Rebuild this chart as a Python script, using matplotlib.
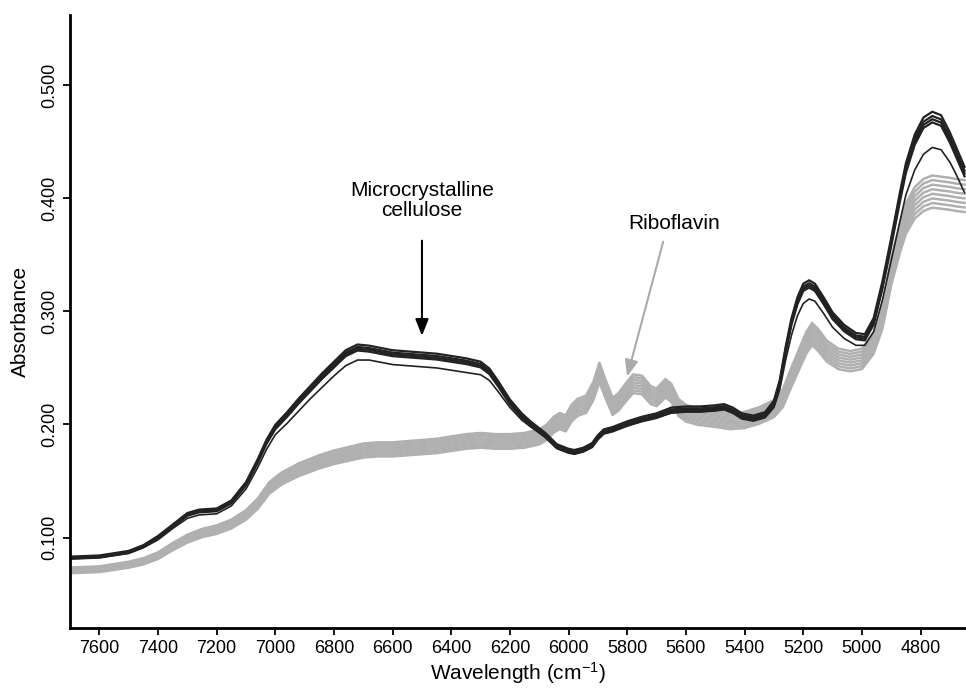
import numpy as np
import matplotlib.pyplot as plt

plt.rcParams['font.family'] = ['Liberation Sans', 'DejaVu Sans']
plt.rcParams['mathtext.default'] = 'regular'

# wavenumbers (cm-1) and read-off absorbance of the two sample groups
wn_dark = [7700, 7600, 7500, 7450, 7400, 7350, 7300, 7260, 7200, 7150, 7100, 7060,
           7030, 7000, 6960, 6920, 6880, 6840, 6800, 6760, 6720, 6680, 6640, 6600,
           6550, 6500, 6450, 6400, 6350, 6300, 6270, 6240, 6200, 6160, 6130, 6080,
           6040, 6000, 5980, 5950, 5920, 5900, 5880, 5850, 5800, 5750, 5700, 5650,
           5600, 5550, 5500, 5470, 5440, 5410, 5370, 5330, 5300, 5280, 5260, 5240,
           5220, 5200, 5180, 5160, 5130, 5100, 5060, 5020, 4990, 4960, 4930, 4900,
           4870, 4850, 4820, 4790, 4760, 4730, 4700, 4680, 4650]
abs_dark = [0.082, 0.083, 0.087, 0.092, 0.100, 0.110, 0.120, 0.123, 0.124, 0.131, 0.147, 0.167,
            0.184, 0.197, 0.208, 0.220, 0.231, 0.242, 0.252, 0.262, 0.267, 0.266, 0.264, 0.262,
            0.261, 0.260, 0.259, 0.257, 0.255, 0.252, 0.246, 0.235, 0.219, 0.207, 0.200, 0.190,
            0.180, 0.176, 0.175, 0.177, 0.181, 0.188, 0.193, 0.195, 0.200, 0.204, 0.207, 0.212,
            0.213, 0.213, 0.214, 0.215, 0.212, 0.207, 0.205, 0.208, 0.218, 0.236, 0.265, 0.290,
            0.308, 0.320, 0.323, 0.320, 0.308, 0.295, 0.284, 0.277, 0.276, 0.290, 0.322, 0.360,
            0.400, 0.425, 0.450, 0.465, 0.470, 0.467, 0.452, 0.440, 0.422]
# one sample with lower intensity at the bands
abs_dark_low = [0.081, 0.082, 0.086, 0.091, 0.098, 0.108, 0.117, 0.120, 0.121, 0.128, 0.143, 0.162,
                0.178, 0.191, 0.201, 0.212, 0.223, 0.233, 0.243, 0.252, 0.257, 0.257, 0.255, 0.253,
                0.252, 0.251, 0.250, 0.248, 0.246, 0.244, 0.239, 0.229, 0.215, 0.204, 0.198, 0.189,
                0.179, 0.175, 0.174, 0.176, 0.180, 0.187, 0.192, 0.194, 0.199, 0.203, 0.206, 0.210,
                0.211, 0.211, 0.212, 0.213, 0.210, 0.205, 0.203, 0.206, 0.215, 0.231, 0.257, 0.279,
                0.296, 0.307, 0.311, 0.309, 0.298, 0.286, 0.276, 0.270, 0.270, 0.282, 0.310, 0.345,
                0.380, 0.403, 0.425, 0.439, 0.445, 0.443, 0.432, 0.422, 0.405]

wn_grey = [7700, 7600, 7500, 7450, 7400, 7350, 7300, 7250, 7200, 7150, 7100, 7060,
           7020, 6980, 6920, 6850, 6800, 6750, 6700, 6650, 6600, 6550, 6500, 6450,
           6400, 6350, 6300, 6250, 6200, 6150, 6100, 6075, 6050, 6030, 6010, 5990,
           5970, 5940, 5915, 5895, 5875, 5850, 5830, 5800, 5780, 5750, 5720, 5700,
           5670, 5650, 5625, 5600, 5560, 5500, 5450, 5400, 5350, 5300, 5270, 5240,
           5210, 5190, 5170, 5150, 5120, 5080, 5040, 5000, 4960, 4930, 4900, 4870,
           4850, 4820, 4790, 4760, 4730, 4700, 4680, 4650]
abs_grey = [0.071, 0.072, 0.076, 0.079, 0.084, 0.092, 0.099, 0.104, 0.107, 0.112, 0.120, 0.130,
            0.144, 0.152, 0.160, 0.167, 0.171, 0.174, 0.177, 0.178, 0.178, 0.179, 0.180, 0.181,
            0.183, 0.185, 0.186, 0.185, 0.185, 0.186, 0.189, 0.193, 0.200, 0.203, 0.201, 0.210,
            0.215, 0.218, 0.230, 0.246, 0.232, 0.216, 0.220, 0.230, 0.236, 0.235, 0.226, 0.224,
            0.232, 0.228, 0.215, 0.210, 0.207, 0.205, 0.203, 0.204, 0.208, 0.214, 0.223, 0.242,
            0.260, 0.272, 0.280, 0.275, 0.265, 0.258, 0.256, 0.258, 0.272, 0.295, 0.335, 0.365,
            0.382, 0.396, 0.403, 0.406, 0.405, 0.404, 0.403, 0.402]

# relative intensity of each sample spectrum
scale_dark = [1.014, 1.006, 1.0, 0.994]
scale_grey = [1.035, 1.025, 1.015, 1.005, 0.995, 0.985, 0.975, 0.965]

fig = plt.figure(figsize=(9.66, 6.89), dpi=100)
ax = fig.add_axes([0.0725, 0.0885, 0.9275, 0.8895])

for s in scale_grey:
    ax.plot(wn_grey, np.array(abs_grey) * s, color='#b0b0b0', lw=1.8)
ax.plot(wn_dark, abs_dark_low, color='#222222', lw=1.2)
for s in scale_dark:
    ax.plot(wn_dark, np.array(abs_dark) * s, color='#222222', lw=1.6)

ax.set_xlim(7700, 4645)
ax.set_ylim(0.02, 0.562)
ax.set_xticks(np.arange(7600, 4700, -200))
ax.set_yticks([0.1, 0.2, 0.3, 0.4, 0.5])
ax.set_yticklabels(['0.100', '0.200', '0.300', '0.400', '0.500'], rotation=90, va='center')
ax.tick_params(labelsize=13, length=5, width=1.3, direction='out')
ax.spines['top'].set_visible(False)
ax.spines['right'].set_visible(False)
ax.spines['left'].set_linewidth(2)
ax.spines['bottom'].set_linewidth(2)

ax.set_xlabel('Wavelength (cm$^{-1}$)', fontsize=15, labelpad=2)
ax.set_ylabel('Absorbance', fontsize=15, labelpad=8)

# annotations
ax.text(6500, 0.398, 'Microcrystalline\ncellulose', ha='center', va='center',
        fontsize=15, linespacing=1.1)
ax.annotate('', xy=(6500, 0.276), xytext=(6500, 0.365),
            arrowprops=dict(arrowstyle='-|>,head_width=0.4,head_length=1.0',
                            color='black', lw=1.5))
ax.text(5641, 0.378, 'Riboflavin', ha='center', va='center', fontsize=15)
ax.annotate('', xy=(5803, 0.240), xytext=(5675, 0.364),
            arrowprops=dict(arrowstyle='-|>,head_width=0.4,head_length=1.0',
                            color='#aaaaaa', lw=1.5))

fig.savefig('out.png', dpi=100)
